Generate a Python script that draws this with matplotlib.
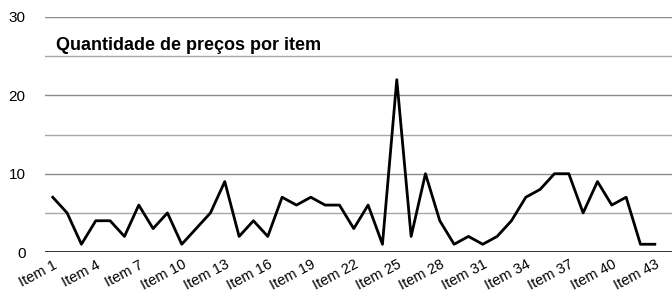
import numpy as np
import matplotlib.pyplot as plt

plt.rcParams['font.family'] = ['Liberation Sans', 'DejaVu Sans']

items = ['Item %d' % i for i in range(1, 44)]
precos = [7, 5, 1, 4, 4, 2, 6, 3, 5, 1,
          3, 5, 9, 2, 4, 2, 7, 6, 7, 6,
          6, 3, 6, 1, 22, 2, 10, 4, 1, 2,
          1, 2, 4, 7, 8, 10, 10, 5, 9, 6,
          7, 1, 1]
titulo = 'Quantidade de preços por item'
grade_menor = [5, 15, 25]

fig = plt.figure(figsize=(6.72, 3.03), dpi=100)
ax = fig.add_axes([0.067, 0.168, 0.933, 0.776])

x = np.arange(len(items))
ax.plot(x, precos, color='black', lw=2.0, zorder=3)

ax.set_ylim(0, 30)
ax.set_xlim(-0.54, len(items) + 0.2)
ax.set_yticks([0, 10, 20, 30])
ax.grid(axis='y', which='major', color='#8c8c8c', lw=1.0)
for g in grade_menor:
    ax.axhline(g, color='#a8a8a8', lw=1.0, zorder=1)
ax.axhline(0, color='black', lw=1.8, zorder=2)

ax.set_xticks(x[::3])
ax.set_xticklabels(items[::3], rotation=28, ha='right', rotation_mode='anchor', fontsize=10.5)
ax.tick_params(axis='x', length=0, pad=4)
ax.tick_params(axis='y', which='both', length=0, pad=14, labelsize=11)

for s in ax.spines.values():
    s.set_visible(False)

ax.text(0.018, 0.88, titulo, transform=ax.transAxes, fontsize=13,
        fontweight='bold', va='center', ha='left')

fig.savefig('out.png', dpi=100)
